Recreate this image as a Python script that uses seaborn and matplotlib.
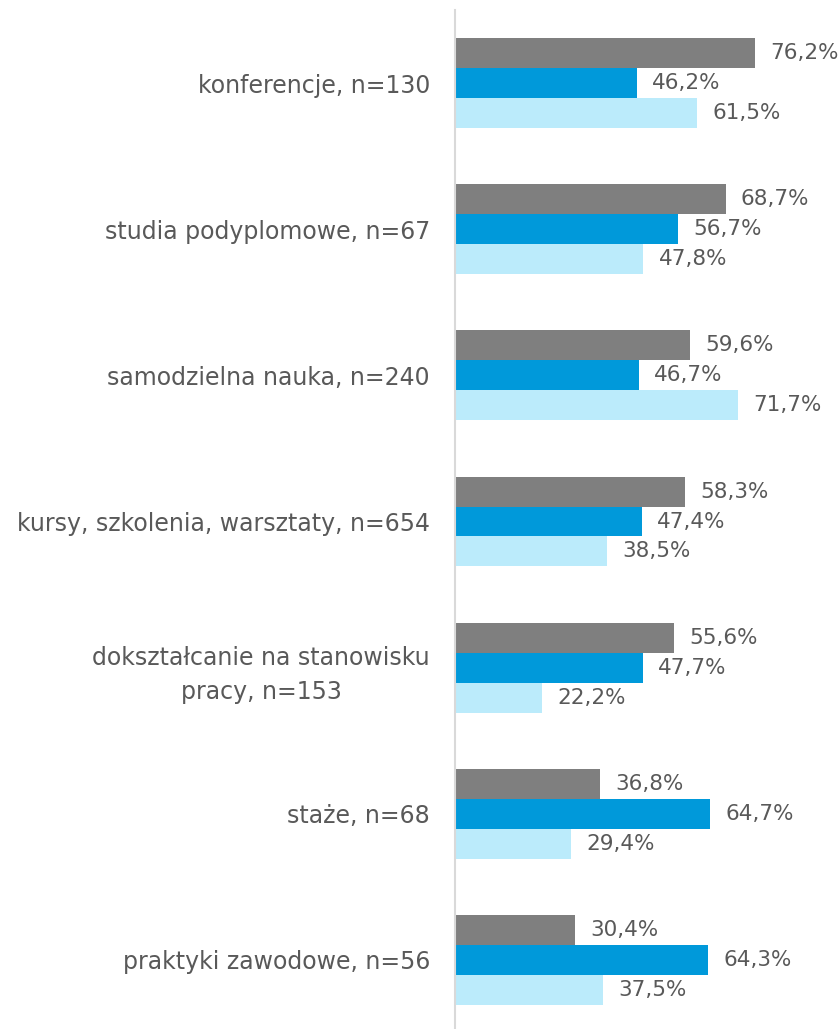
import pandas as pd
import seaborn as sns
import matplotlib.pyplot as plt

categories = [
    "konferencje, n=130",
    "studia podyplomowe, n=67",
    "samodzielna nauka, n=240",
    "kursy, szkolenia, warsztaty, n=654",
    "dokształcanie na stanowisku\npracy, n=153",
    "staże, n=68",
    "praktyki zawodowe, n=56",
]
series = ["A", "B", "C"]
vals_a = [76.2, 68.7, 59.6, 58.3, 55.6, 36.8, 30.4]
vals_b = [46.2, 56.7, 46.7, 47.4, 47.7, 64.7, 64.3]
vals_c = [61.5, 47.8, 71.7, 38.5, 22.2, 29.4, 37.5]
colors = ["#7f7f7f", "#0099da", "#bbebfb"]

rows = []
for s, vals in zip(series, [vals_a, vals_b, vals_c]):
    for c, v in zip(categories, vals):
        rows.append({"cat": c, "series": s, "val": v})
df = pd.DataFrame(rows)

sns.set_theme(style="white")
plt.rcParams["font.family"] = ["DejaVu Sans"]

fig = plt.figure(figsize=(8.4, 10.29), dpi=100)
ax = fig.add_axes([455 / 840, -4 / 1029, 385 / 840, 1023 / 1029])

sns.barplot(data=df, y="cat", x="val", hue="series", order=categories,
            hue_order=series, palette=colors, orient="h", width=0.615,
            gap=0, saturation=1, legend=False, linewidth=0, ax=ax)

for cont in ax.containers:
    ax.bar_label(cont, labels=[f"{v:.1f}%".replace(".", ",") for v in cont.datavalues],
                 padding=11, fontsize=15.5, color="#595959")

ax.set_xlim(0, 97.7)
ax.set_ylim(6.5, -0.5)
ax.set_xlabel("")
ax.set_ylabel("")
ax.set_xticks([])
for sp in ["top", "right", "bottom"]:
    ax.spines[sp].set_visible(False)
ax.spines["left"].set_color("#d9d9d9")
ax.spines["left"].set_linewidth(1.5)
ax.tick_params(axis="y", length=0, pad=18, labelsize=17, labelcolor="#595959")
for t in ax.get_yticklabels():
    t.set_multialignment("center")
    t.set_linespacing(1.5)

fig.savefig("out.png", dpi=100)
